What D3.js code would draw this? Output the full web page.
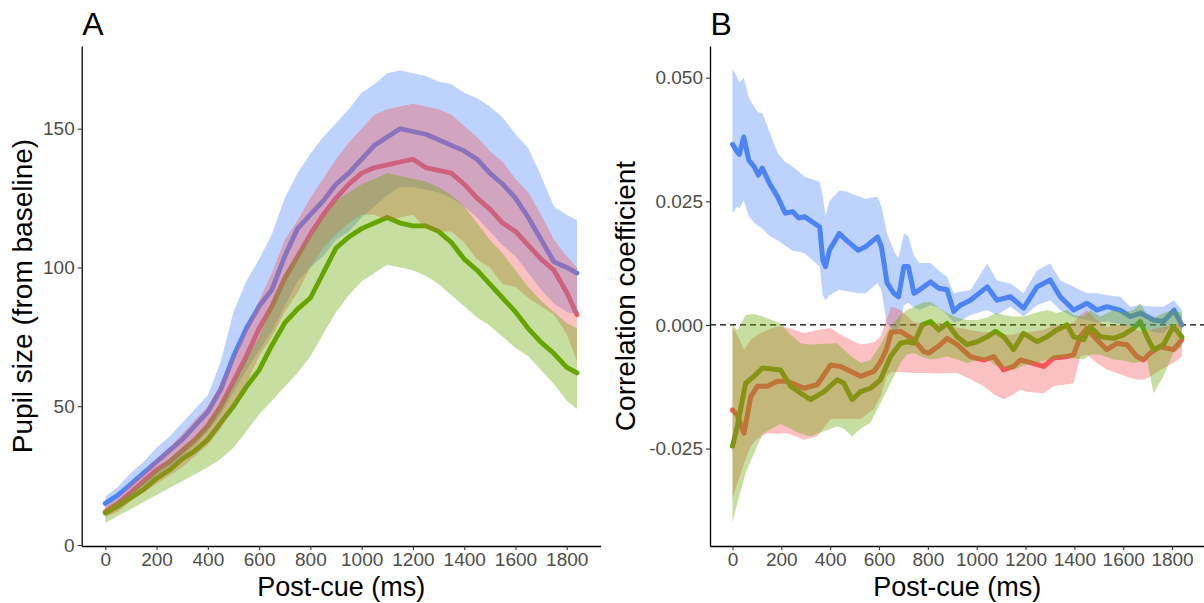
<!DOCTYPE html>
<html><head><meta charset="utf-8">
<script src="https://cdn.jsdelivr.net/npm/d3@7"></script>
<style>
body{margin:0;background:#fff;}
svg text{font-family:"Liberation Sans",Arial,sans-serif;}
</style></head>
<body><svg id="chart" width="1204" height="603"></svg>
<script>
// ---------- Panel A data (pupil size, 50 ms grid) ----------
const timeA = [0,50,100,150,200,250,300,350,400,450,500,550,600,650,700,750,800,850,900,950,1000,1050,1100,1150,1200,1250,1300,1350,1400,1450,1500,1550,1600,1650,1700,1750,1800,1840];
const aBlueMean = [15,18,22,26,30,34,38,43,48,56,68,78,86,92,104,114,119,124,130,134,139,144,147,150,149,148,146,144,142,139,134,130,125,118,110,102,100,98];
const aBlueHi   = [17.4,21,26,30,35,39,44,49,54,66,84,95,103,112,125,134,141,147,152,157,163,166,170,171,170,169,167,166,163,161,158,154,148,143,133,122,119,117];
const aBlueLo   = [13,15,18,21,25,28,32,36,41,47,55,63,70,77,86,95,100,104,110,113,118,122,126,129,129,128,127,125,122,118,113,108,104,98,92,87,84,83];
const aRedMean  = [12,15,19,23,27,30,34,38,43,50,59,68,78,86,96,104,112,119,125,130,134,136,137,138,139,136,135,134,130,125,121,116,113,108,103,99,91,83];
const aRedHi    = [14,17,22,26,31,35,40,45,50,58,68,78,88,98,110,117,125,132,139,145,150,155,157,158,159,158,157,155,151,147,142,138,132,127,119,110,104,100];
const aRedLo    = [10,12,16,19,22,25,28,32,36,42,50,58,68,75,84,91,100,107,112,116,119,119,117,118,119,114,113,113,109,103,100,94,93,89,86,83,76,66];
const aGreenMean= [11.5,14,17,20,24,27,31,34,38,44,50,57,63,72,80,85,89,98,107,111,114,116,118,116,115,115,113,109,103,99,94,89,84,78,73,69,64,62];
const aGreenHi  = [13,16,19,23,27,31,35,39,44,51,58,67,75,88,98,105,111,118,124,127,130,132,134,133,132,131,129,126,122,116,110,105,99,93,88,84,80,78];
const aGreenLo  = [8,10.5,13,15.5,18,20.5,23,25.5,28,31,35,41,47,52,57,62,68,76,84,90,95,98,101,100,99,97,94,90,86,82,79,75,71,68,63,58,52,49];

// ---------- Panel B data (correlation coefficient) ----------
const bBlueTime = [0,20,28,46,67,90,106,122,152,185,216,247,271,295,357,370,381,397,437,467,515,545,594,610,633,661,680,702,720,743,766,811,845,879,906,933,974,1043,1083,1138,1192,1247,1301,1342,1397,1451,1492,1533,1588,1629,1670,1724,1765,1808,1840];
const bBlueMean = [.0365,.035,.0345,.038,.0333,.0319,.0303,.0317,.0286,.0259,.0226,.0229,.0216,.0219,.0198,.0131,.0118,.0151,.0185,.0171,.0151,.0158,.0178,.0158,.0085,.0064,.0057,.0118,.0118,.0064,.0071,.0087,.0074,.0071,.0027,.004,.005,.0077,.005,.0057,.0034,.0077,.0091,.0057,.003,.0044,.003,.0037,.003,.0017,.0024,.001,.0007,.003,.0];
const bBlueHi   = [.0518,.050,.049,.050,.046,.044,.043,.0428,.039,.0347,.033,.032,.031,.030,.0289,.026,.022,.025,.0272,.027,.026,.0255,.0259,.024,.0185,.015,.0135,.0185,.018,.014,.0125,.0125,.011,.0097,.0064,.0067,.007,.0124,.009,.0084,.0064,.011,.0124,.009,.0077,.0064,.0064,.006,.0057,.0037,.004,.0037,.0037,.005,.003];
const bBlueLo   = [.0226,.024,.0235,.0252,.022,.0206,.020,.0195,.018,.0171,.016,.015,.0148,.0145,.0118,.006,.005,.006,.0071,.0068,.0064,.0064,.0085,.007,.0,-.001,-.001,.004,.0045,.0035,.003,.004,.0035,.002,.0005,.0008,.002,.003,.002,.0037,.0017,.004,.005,.003,.0015,.001,.0005,.0007,.0002,-.0003,-.0005,-.0015,-.0017,.0005,-.001];

const bRedTime = [0,20,47,75,102,143,184,225,293,347,402,443,525,579,606,630,650,688,743,783,804,851,879,920,974,1029,1070,1110,1151,1179,1206,1274,1315,1370,1397,1424,1451,1492,1533,1574,1615,1656,1683,1710,1751,1805,1840];
const bRedMean = [-.0172,-.0182,-.0219,-.0145,-.0124,-.0124,-.0114,-.0114,-.0128,-.0121,-.0081,-.0084,-.0104,-.0094,-.0075,-.005,-.0015,-.0013,-.003,-.0054,-.0057,-.004,-.0027,-.004,-.0064,-.0071,-.0064,-.0091,-.0084,-.0071,-.0074,-.0084,-.0067,-.0064,-.006,-.0024,-.0007,-.003,-.005,-.0037,-.004,-.0064,-.0071,-.0057,-.0044,-.005,-.003];
const bRedHi   = [-.0005,-.002,-.005,-.003,-.002,-.001,-.0003,-.0005,-.0017,-.001,-.0006,-.002,-.004,-.0035,-.0024,.001,.0037,.003,.0005,.0003,.0,.0005,.0,-.0005,-.001,-.0015,-.0015,-.002,-.002,-.0015,-.0015,-.001,0,0,.0005,.002,.003,.001,-.0005,0,0,-.001,-.0015,-.001,-.0005,0,.0005];
const bRedLo   = [-.035,-.032,-.028,-.0245,-.023,-.0219,-.022,-.0219,-.0232,-.0225,-.019,-.019,-.019,-.017,-.0145,-.0105,-.0095,-.0095,-.0097,-.0097,-.0097,-.0098,-.0097,-.0097,-.011,-.0124,-.014,-.0151,-.014,-.0131,-.0135,-.0138,-.0124,-.012,-.0118,-.0064,-.006,-.0077,-.009,-.0097,-.0105,-.0111,-.0111,-.0105,-.0091,-.0077,-.0064];

const bGreenTime = [0,20,54,88,123,197,238,279,320,375,429,456,490,525,565,606,647,688,715,743,777,811,845,879,920,961,1002,1043,1077,1111,1151,1192,1247,1288,1328,1370,1397,1438,1465,1506,1560,1601,1642,1670,1697,1724,1765,1805,1840];
const bGreenMean = [-.0245,-.0205,-.0118,-.0104,-.0087,-.0091,-.0124,-.0138,-.0151,-.0135,-.0111,-.0118,-.0151,-.0135,-.0128,-.0111,-.0064,-.0037,-.0034,-.0037,0,.0007,-.001,.0003,-.0024,-.004,-.0034,-.0024,-.0013,-.0024,-.005,-.0017,-.0034,-.0024,-.001,0,-.0024,-.003,-.0003,-.0024,-.0027,-.002,-.0007,.0007,-.0024,-.005,-.004,-.0003,-.0024];
const bGreenHi   = [.0,-.001,.002,.0022,.0017,.0003,-.002,-.0037,-.004,-.0038,-.0037,-.005,-.0065,-.0077,-.0071,-.004,-.0003,.002,.003,.0037,.0045,.0047,.0035,.0024,.0015,.001,.001,.0015,.0024,.002,.0017,.0017,.0025,.003,.0024,.003,.002,.0017,.003,.0017,.003,.0025,.003,.0044,.002,.0014,.0024,.003,.0024];
const bGreenLo   = [-.040,-.036,-.030,-.026,-.022,-.020,-.021,-.022,-.0225,-.0215,-.0205,-.021,-.0225,-.021,-.0198,-.0158,-.0118,-.0077,-.006,-.0057,-.0065,-.007,-.0068,-.0064,-.007,-.0077,-.0072,-.007,-.0082,-.0086,-.0091,-.0082,-.0077,-.007,-.0068,-.0064,-.0068,-.007,-.006,-.006,-.007,-.0072,-.0077,-.0075,-.007,-.0138,-.0104,-.0057,-.0044];

// ---------- ticks & labels ----------
const xTicks = [0,200,400,600,800,1000,1200,1400,1600,1800];
const aYTicks = [0,50,100,150];
const bYTicks = [-0.025,0,0.025,0.05];
const seriesColors = {blue:"#4C84F6", red:"#F4575A", green:"#66A500"};

const svg = d3.select("#chart");

function zip(t, m, lo, hi){ return t.map((d,i)=>({t:d, m:m[i], lo:lo[i], hi:hi[i]})); }

function drawPanel(cfg){
  const x = d3.scaleLinear().domain([-92,1932]).range(cfg.xRange);
  const y = d3.scaleLinear().domain(cfg.yDomain).range([546,46]);
  const g = svg.append("g");

  if (cfg.zeroLine){
    g.append("line").attr("x1",cfg.xRange[0]).attr("x2",cfg.xRange[1])
      .attr("y1",y(0)).attr("y2",y(0))
      .attr("stroke","#000").attr("stroke-width",1.3).attr("stroke-dasharray","6,4");
  }
  const line = d3.line().x(d=>x(d.t)).y(d=>y(d.m));
  const area = d3.area().x(d=>x(d.t)).y0(d=>y(d.lo)).y1(d=>y(d.hi));
  // lines first, ribbons on top (semi transparent)
  cfg.series.forEach(s=>{
    g.append("path").datum(s.data).attr("d",line)
      .attr("fill","none").attr("stroke",seriesColors[s.key])
      .attr("stroke-width",cfg.lw).attr("stroke-linejoin","round").attr("stroke-linecap","round");
  });
  cfg.series.forEach(s=>{
    g.append("path").datum(s.data).attr("d",area)
      .attr("fill",seriesColors[s.key]).attr("fill-opacity",0.37).attr("stroke","none");
  });

  const xa = g.append("g").attr("transform","translate(0,546)")
    .call(d3.axisBottom(x).tickValues(xTicks).tickSize(4).tickSizeOuter(0).tickPadding(3).tickFormat(d3.format("d")));
  const ya = g.append("g").attr("transform",`translate(${cfg.xRange[0]},0)`)
    .call(d3.axisLeft(y).tickValues(cfg.yTicks).tickSize(4).tickSizeOuter(0).tickPadding(3).tickFormat(cfg.fmt));
  [xa,ya].forEach(a=>{
    a.select(".domain").attr("stroke","#000").attr("stroke-width",1.3);
    a.selectAll(".tick line").attr("stroke","#333").attr("stroke-width",1.1);
    a.selectAll(".tick text").attr("fill","#4d4d4d").style("font-size","19px").style("font-family","'Liberation Sans',Arial,sans-serif");
  });

  svg.append("text").attr("x",cfg.xRange[0]+0.5).attr("y",35).text(cfg.letter)
    .style("font-size","32px").attr("fill","#000");
  svg.append("text").attr("x",(cfg.xRange[0]+cfg.xRange[1])/2).attr("y",596)
    .attr("text-anchor","middle").style("font-size","27px").attr("fill","#000").text("Post-cue (ms)");
  svg.append("text").attr("transform",`translate(${cfg.yTitleX},296) rotate(-90)`)
    .attr("text-anchor","middle").style("font-size","28px").attr("fill","#000").text(cfg.yTitle);
}

drawPanel({
  xRange:[81.7,600.6], yDomain:[-0.36,179.8], yTicks:aYTicks, fmt:d3.format("d"),
  letter:"A", yTitle:"Pupil size (from baseline)", yTitleX:32, lw:4.8, zeroLine:false,
  series:[
    {key:"blue", data:zip(timeA,aBlueMean,aBlueLo,aBlueHi)},
    {key:"red", data:zip(timeA,aRedMean,aRedLo,aRedHi)},
    {key:"green", data:zip(timeA,aGreenMean,aGreenLo,aGreenHi)}
  ]
});
drawPanel({
  xRange:[710,1204.3], yDomain:[-0.0447,0.0564], yTicks:bYTicks, fmt:d=>d.toFixed(3),
  letter:"B", yTitle:"Correlation coefficient", yTitleX:635, lw:5, zeroLine:true,
  series:[
    {key:"blue", data:zip(bBlueTime,bBlueMean,bBlueLo,bBlueHi)},
    {key:"red", data:zip(bRedTime,bRedMean,bRedLo,bRedHi)},
    {key:"green", data:zip(bGreenTime,bGreenMean,bGreenLo,bGreenHi)}
  ]
});
</script>
</body></html>
